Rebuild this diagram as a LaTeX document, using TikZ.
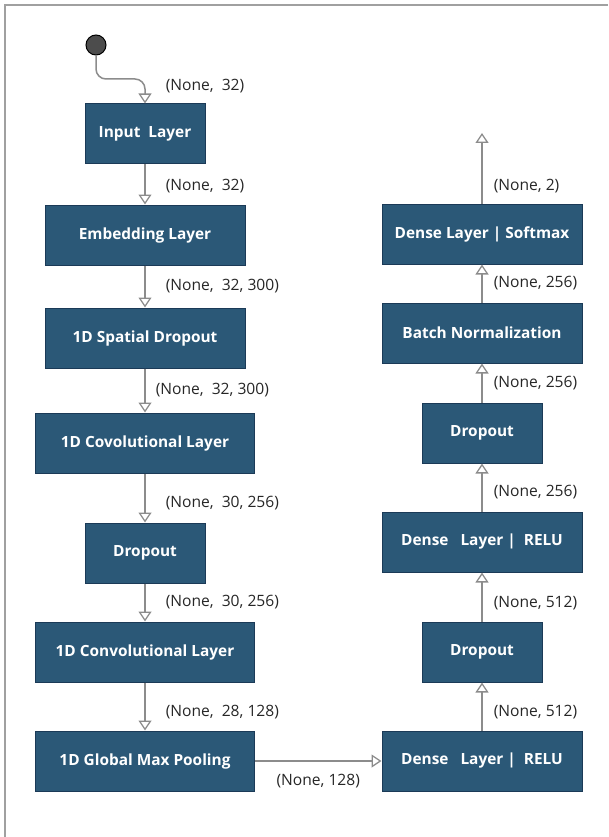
\documentclass[tikz,border=0pt]{standalone}
\usepackage{fontspec}
\setmainfont{Open Sans}
\usepackage{xcolor}
\usepackage{tikz}
\usetikzlibrary{arrows.meta}

\definecolor{layerfill}{HTML}{2B5877}
\definecolor{layerline}{HTML}{1B3A57}
\definecolor{flowgray}{HTML}{8C8C8C}
\definecolor{framegray}{HTML}{A0A0A0}

\begin{document}
\begin{tikzpicture}[
  x=1pt, y=-1pt,
  layer/.style={draw=layerline, line width=1pt, fill=layerfill, text=white,
    font=\fontsize{15.4}{17}\selectfont\bfseries, minimum height=60pt, inner sep=0pt},
  small/.style={layer, minimum width=120pt},
  medium/.style={layer, minimum width=200pt},
  wide/.style={layer, minimum width=219pt},
  flow/.style={draw=flowgray, line width=1.5pt,
    -{Triangle[open, length=10pt, width=13pt, line width=1.3pt]}},
  shape label/.style={font=\fontsize{15.6}{17}\selectfont, text=black!85, anchor=west, inner sep=0pt}
  ]

\useasboundingbox (0,0) rectangle (608,837);

% frame
\draw[framegray, line width=2pt] (608,5) -- (5,5) -- (5,837);

% start point
\node[circle, draw=black, fill=black!70, line width=1pt, minimum size=20pt, inner sep=0pt] (dot) at (96,45) {};

% left column
\node[small]  (in)    at (145,134) {Input\ \ Layer};
\node[medium] (emb)   at (145,235) {Embedding Layer};
\node[medium] (sdrop) at (145,338) {1D Spatial Dropout};
\node[wide]   (conv1) at (145,443) {1D Covolutional Layer};
\node[small]  (drop1) at (145,553) {Dropout};
\node[wide]   (conv2) at (145,652) {1D Convolutional Layer};
\node[wide]   (gmp)   at (145,761) {1D Global Max Pooling};

% right column
\node[medium] (dense1) at (482,761) {Dense\ \ \ Layer\ |\ \ RELU};
\node[small]  (drop2)  at (482,652) {Dropout};
\node[medium] (dense2) at (482,542) {Dense\ \ \ Layer\ |\ \ RELU};
\node[small]  (drop3)  at (482,433) {Dropout};
\node[medium] (bn)     at (482,333) {Batch Normalization};
\node[medium] (soft)   at (482,234) {Dense Layer | Softmax};
\coordinate (out) at (482,133);

% connectors
\draw[flow, rounded corners=10pt] (dot.south) -- (96,79) -- (145,79)
  -- node[shape label, pos=0.3, xshift=20pt] (l0) {(None,\ \ 32)} (in.north);
\draw[flow] (in.south) -- node[shape label, pos=0.55, xshift=20pt] (l1) {(None,\ \ 32)} (emb.north);
\draw[flow] (emb.south) -- node[shape label, pos=0.5, xshift=20pt] (l2) {(None,\ \ 32, 300)} (sdrop.north);
\draw[flow] (sdrop.south) -- node[shape label, pos=0.5, xshift=10pt] (l3) {(None,\ \ 32, 300)} (conv1.north);
\draw[flow] (conv1.south) -- node[shape label, pos=0.6, xshift=20pt] (l4) {(None,\ \ 30, 256)} (drop1.north);
\draw[flow] (drop1.south) -- node[shape label, pos=0.5, xshift=20pt] (l5) {(None,\ \ 30, 256)} (conv2.north);
\draw[flow] (conv2.south) -- node[shape label, pos=0.62, xshift=20pt] (l6) {(None,\ \ 28, 128)} (gmp.north);
\draw[flow] (gmp.east) -- node[shape label, anchor=north, pos=0.5, yshift=-12pt] (l7) {(None, 128)} (dense1.west);

\draw[flow] (dense1.north) -- node[shape label, pos=0.38, xshift=11pt] (l8) {(None, 512)} (drop2.south);
\draw[flow] (drop2.north) -- node[shape label, pos=0.38, xshift=11pt] (l9) {(None, 512)} (dense2.south);
\draw[flow] (dense2.north) -- node[shape label, pos=0.4, xshift=11pt] (l10) {(None, 256)} (drop3.south);
\draw[flow] (drop3.north) -- node[shape label, pos=0.5, xshift=11pt] (l11) {(None, 256)} (bn.south);
\draw[flow] (bn.north) -- node[shape label, pos=0.5, xshift=11pt] (l12) {(None, 256)} (soft.south);
\draw[flow] (soft.north) -- node[shape label, pos=0.25, xshift=11pt] (l13) {(None, 2)} (out);

\end{tikzpicture}
\end{document}
